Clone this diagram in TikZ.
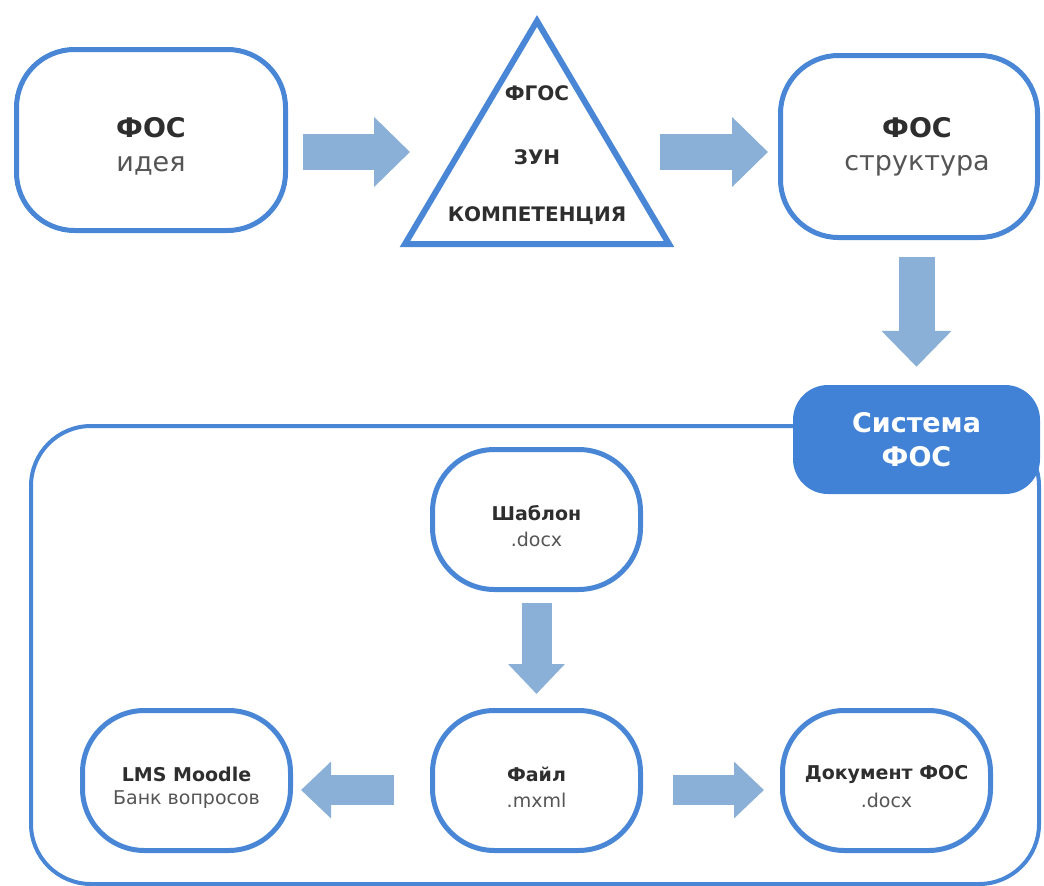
\documentclass[tikz,border=0pt]{standalone}
\usepackage{fontspec}
\setmainfont{DejaVu Sans}
\usetikzlibrary{arrows.meta,calc}
\definecolor{bblue}{HTML}{4A86D6}
\definecolor{sysblue}{HTML}{4182D6}
\definecolor{flowc}{HTML}{8AB0D8}
\definecolor{ink}{HTML}{2E2E2E}
\definecolor{subc}{HTML}{555555}
\begin{document}
\begin{tikzpicture}[x=1pt,y=-1pt,
  bigbox/.style={draw=bblue, line width=5pt, rounded corners=58pt, fill=white, inner sep=0pt},
  smallbox/.style={draw=bblue, line width=5pt, rounded corners=62pt, fill=white, inner sep=0pt,
    minimum width=208pt, minimum height=140pt},
  ttl/.style={font=\bfseries\fontsize{27}{32}\selectfont, text=ink, inner sep=0pt},
  sbt/.style={font=\fontsize{27}{32}\selectfont, text=subc, inner sep=0pt},
  sttl/.style={font=\bfseries\fontsize{19}{22}\selectfont, text=ink, inner sep=0pt},
  ssbt/.style={font=\fontsize{19}{22}\selectfont, text=subc, inner sep=0pt},
  trit/.style={font=\bfseries\fontsize{20}{24}\selectfont, text=ink, inner sep=0pt},
  bigflow/.style={draw=flowc, line width=36pt, -{Triangle[width=68pt,length=36pt]}},
  smallflow/.style={draw=flowc, line width=30pt, -{Triangle[width=55pt,length=30pt]}}
]
\useasboundingbox (0,0) rectangle (1044,886);
% container
\node[draw=bblue, line width=4pt, rounded corners=60pt, minimum width=1008pt, minimum height=458pt, inner sep=0pt] (cont) at (535,655) {};
% top row
\node[bigbox, minimum width=269pt, minimum height=181pt] (idea) at (151,140) {};
\node[ttl] (ideaT) at (151,128) {ФОС};
\node[sbt] (ideaS) at (151,166) {идея};

\draw[bblue, line width=6pt, line join=miter] (537,21) -- (669,244) -- (405,244) -- cycle;
\node[trit] (tri1) at (537,93) {ФГОС};
\node[trit] (tri2) at (537,157) {ЗУН};
\node[trit] (tri3) at (537,216) {КОМПЕТЕНЦИЯ};

\node[bigbox, minimum width=257pt, minimum height=182pt] (struct) at (909,146.5) {};
\node[ttl] (structT) at (917,128) {ФОС};
\node[sbt] (structS) at (917,166) {структура};

% system label
\node[fill=sysblue, rounded corners=35pt, minimum width=247pt, minimum height=109pt, inner sep=0pt,
  text=white, font=\bfseries\fontsize{27}{34}\selectfont, align=center] (sys) at (916.5,439.5) {Система\\ФОС};

% inner boxes
\node[smallbox] (templ) at (536.5,519.5) {};
\node[sttl] (templT) at (536.5,513) {Шаблон};
\node[ssbt] (templS) at (536.5,539) {.docx};

\node[smallbox] (file) at (536.5,780.5) {};
\node[sttl] (fileT) at (536.5,774) {Файл};
\node[ssbt] (fileS) at (536.5,800) {.mxml};

\node[smallbox] (lms) at (186.5,780.5) {};
\node[sttl] (lmsT) at (186.5,774) {LMS Moodle};
\node[ssbt] (lmsS) at (186.5,800) {Банк вопросов};

\node[smallbox] (doc) at (886.5,780.5) {};
\node[sttl] (docT) at (886.5,774) {Документ ФОС};
\node[ssbt] (docS) at (886.5,800) {.docx};

% flows
\draw[bigflow] ($(idea.east)+(15,12)$) -- ($(idea.east)+(122,12)$);
\draw[bigflow] ($(struct.west)+(-118,5.5)$) -- ($(struct.west)+(-10,5.5)$);
\draw[bigflow] ($(sys.north |- struct.south)+(0,17)$) -- ($(sys.north)+(0,-18)$);
\draw[smallflow] ($(templ.south)+(0,11)$) -- ($(file.north)+(0,-14)$);
\draw[smallflow] ($(file.west)+(-36,9.5)$) -- ($(lms.east)+(8,9.5)$);
\draw[smallflow] ($(file.east)+(30,9.5)$) -- ($(doc.west)+(-16,9.5)$);
\end{tikzpicture}
\end{document}
